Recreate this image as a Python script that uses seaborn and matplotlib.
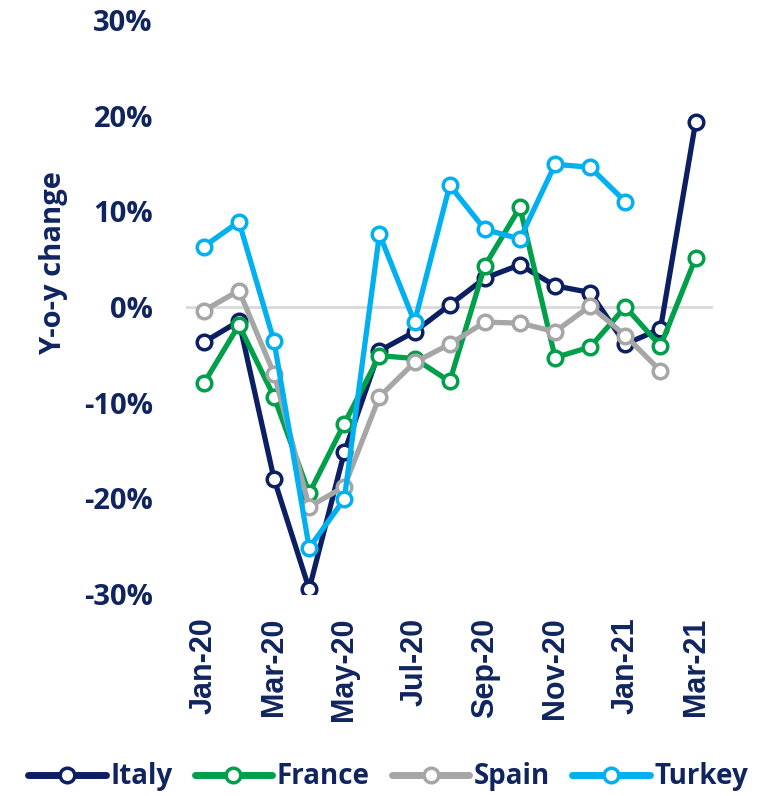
import matplotlib.pyplot as plt
import numpy as np
import pandas as pd
import seaborn as sns

# Monthly year-on-year change (%), Jan-20 .. Mar-21
months = ['Jan-20', 'Feb-20', 'Mar-20', 'Apr-20', 'May-20', 'Jun-20', 'Jul-20',
          'Aug-20', 'Sep-20', 'Oct-20', 'Nov-20', 'Dec-20', 'Jan-21', 'Feb-21',
          'Mar-21']
italy = [-3.7, -1.5, -18.0, -29.5, -15.2, -4.6, -2.6, 0.2, 3.0, 4.4, 2.2, 1.5,
         -3.9, -2.3, 19.3]
france = [-8.0, -1.9, -9.4, -19.5, -12.2, -5.1, -5.4, -7.8, 4.3, 10.4, -5.3,
          -4.2, 0.0, -4.1, 5.1]
spain = [-0.4, 1.7, -7.0, -20.9, -18.8, -9.4, -5.8, -3.9, -1.6, -1.7, -2.6, 0.1,
         -3.0, -6.7, np.nan]
turkey = [6.3, 8.9, -3.6, -25.2, -20.1, 7.6, -1.6, 12.7, 8.1, 7.1, 14.9, 14.6,
          11.0, np.nan, np.nan]

countries = ['Italy', 'France', 'Spain', 'Turkey']
colors = ['#0d1f63', '#00a04a', '#a6a6a6', '#00b0f0']
navy = '#10245f'

df = pd.DataFrame({
    'month': np.tile(np.arange(len(months)), 4),
    'country': np.repeat(countries, len(months)),
    'value': italy + france + spain + turkey,
})

sns.set_style("white")
plt.rcParams['font.family'] = ['Open Sans', 'DejaVu Sans']

fig = plt.figure(figsize=(7.76, 7.96), dpi=100)
ax = fig.add_axes([0.240, 0.254, 0.679, 0.721])

# zero line
ax.axhline(0, color='#d9d9d9', lw=2, zorder=1)

for name, col in zip(countries, colors):
    sns.lineplot(data=df[df['country'] == name], x='month', y='value',
                 color=col, label=name, lw=3.8, marker='o', ms=10.5,
                 mfc='white', mec=col, mew=2.5, ax=ax, zorder=3)

ax.set_xlim(-0.5, len(months) - 0.5)
ax.set_ylim(-30, 30)
ax.set_yticks(range(-30, 31, 10))
ax.set_yticklabels([f'{v}%' for v in range(-30, 31, 10)],
                   fontsize=21, fontweight='bold', color=navy)
ax.set_xticks(range(0, len(months), 2))
ax.set_xticklabels(months[::2], rotation=90, fontsize=22, fontweight='bold',
                   color=navy, family=['Liberation Sans', 'DejaVu Sans'])
ax.tick_params(axis='y', length=0, pad=24)
ax.tick_params(axis='x', length=0, pad=17)

ax.set_xlabel('')
ax.set_ylabel('Y-o-y change', fontsize=21, fontweight='bold', color=navy)
ax.yaxis.set_label_coords(-0.225, 0.577)

for s in ax.spines.values():
    s.set_visible(False)

ax.get_legend().remove()
h, l = ax.get_legend_handles_labels()
leg = fig.legend(h, l, loc='center', bbox_to_anchor=(0.5, 0.024), ncol=4,
                 frameon=False, handlelength=2.8, columnspacing=0.8,
                 handletextpad=0.15,
                 prop={'weight': 'bold', 'size': 20})
for t in leg.get_texts():
    t.set_color(navy)
for ln in leg.get_lines():
    ln.set_linewidth(5)

plt.savefig('out.png', dpi=100)
